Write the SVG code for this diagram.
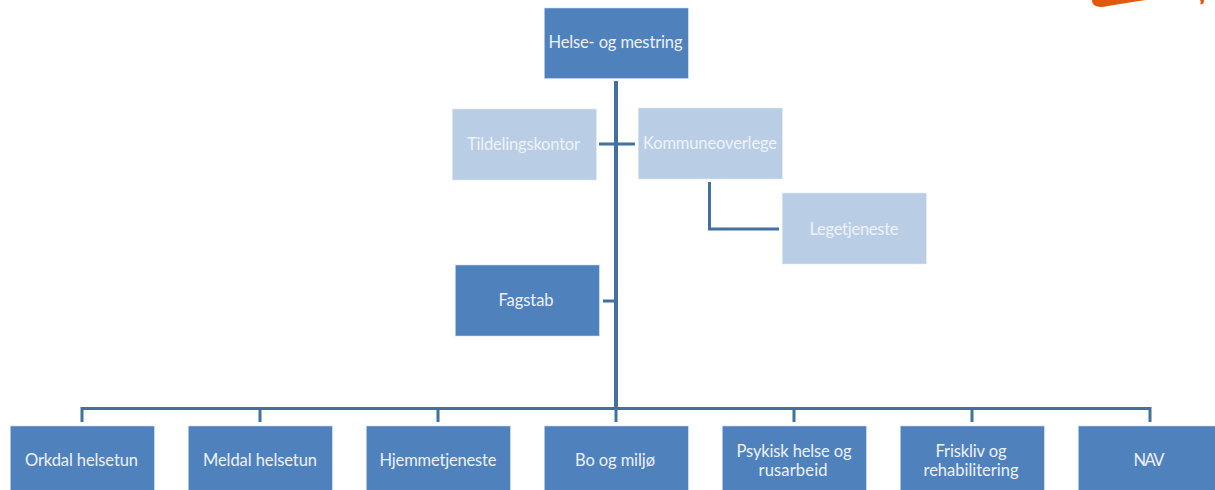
<svg xmlns="http://www.w3.org/2000/svg" width="1215" height="490" viewBox="0 0 1215 490">
<style>
text{font-family:Lato,"Open Sans","Liberation Sans",sans-serif;font-size:16.500px;text-anchor:middle;dominant-baseline:central}
.d rect{fill:#4f81bd;stroke:#c9d8ea;stroke-width:.6}
.d text{fill:#edf2f9}
.l rect{fill:#b9cde5;stroke:#dce6f2;stroke-width:.6}
.l text{fill:#eef3f9}
.c{fill:none;stroke:#44709f}
</style>
<rect width="1215" height="490" fill="#fff"/>
<g id="logo" fill="#e0590f"><path d="M1092 0C1092 7 1099 8 1108 6C1120 4 1132 2 1146 0Z"/><path d="M1200 0L1204 0C1204 3 1203 5 1200 4C1201 3 1201 2 1200 0Z"/></g>
<g id="connectors">
<path class="c" stroke-width="4" d="M616 81V409"/>
<path class="c" stroke-width="3" d="M599 144H635M603 301H616M709.500 182V229H779"/>
<path class="c" stroke-width="3" d="M82 422V408.500H1150V422M260 408.500V422M438 408.500V422M616 408.500V422M794 408.500V422M972 408.500V422"/>
</g>
<g id="n-helse" class="d"><rect x="544.300" y="8" width="144" height="70.500"/><text x="615.500" y="41.500" textLength="134">Helse- og mestring</text></g>
<g id="n-tildeling" class="l"><rect x="452.300" y="109" width="144" height="71"/><text x="523.500" y="143.500" textLength="113">Tildelingskontor</text></g>
<g id="n-kommune" class="l"><rect x="638.300" y="108" width="144" height="71"/><text x="710" y="142.500" textLength="134">Kommuneoverlege</text></g>
<g id="n-lege" class="l"><rect x="782.300" y="193" width="144" height="71"/><text x="854" y="228.500" textLength="89">Legetjeneste</text></g>
<g id="n-fagstab" class="d"><rect x="455.300" y="265" width="144" height="71"/><text x="526" y="299.500" textLength="55">Fagstab</text></g>
<g id="n-orkdal" class="d"><rect x="10.300" y="426" width="144" height="70"/><text x="81.500" y="459.500" textLength="113">Orkdal helsetun</text></g>
<g id="n-meldal" class="d"><rect x="188.300" y="426" width="144" height="70"/><text x="260" y="459.500" textLength="114">Meldal helsetun</text></g>
<g id="n-hjemme" class="d"><rect x="366.300" y="426" width="144" height="70"/><text x="438" y="459.500" textLength="117">Hjemmetjeneste</text></g>
<g id="n-bo" class="d"><rect x="544.300" y="426" width="144" height="70"/><text x="615" y="459.500" textLength="80">Bo og miljø</text></g>
<g id="n-psykisk" class="d"><rect x="722.300" y="426" width="144" height="70"/><text x="794" y="450.500" textLength="115">Psykisk helse og</text><text x="793" y="469.500" textLength="69">rusarbeid</text></g>
<g id="n-friskliv" class="d"><rect x="900.300" y="426" width="144" height="70"/><text x="971" y="450.500" textLength="71">Friskliv og</text><text x="971" y="469.500" textLength="95">rehabilitering</text></g>
<g id="n-nav" class="d"><rect x="1078.300" y="426" width="144" height="70"/><text x="1149" y="459.500" textLength="31">NAV</text></g>
</svg>
